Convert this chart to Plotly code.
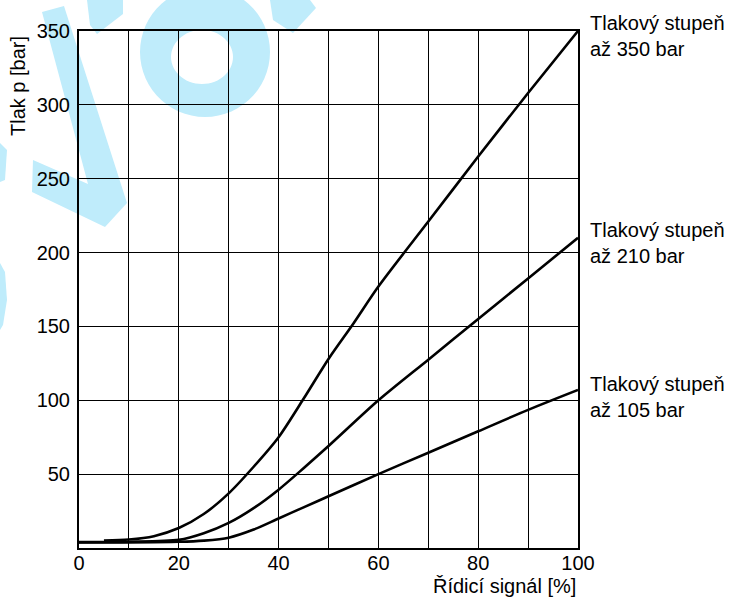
import math
import plotly.graph_objects as go

# Control signal [%] and resulting pressure [bar] for the three pressure stages
signal_350 = [5, 10, 15, 20, 25, 30, 35, 40, 45, 50, 55, 60, 70, 80, 90, 100]
pressure_350 = [5, 5.7, 8, 13.5, 23, 37, 55, 75, 101, 128, 152, 177, 221, 265, 308, 350]

signal_210 = [0, 10, 20, 25, 30, 35, 40, 45, 50, 60, 70, 80, 90, 100]
pressure_210 = [4, 4.2, 5.5, 10, 17, 27, 39.5, 54, 69, 100, 127.5, 155, 182.5, 210]

signal_105 = [0, 10, 20, 25, 30, 35, 40, 45, 50, 60, 70, 80, 90, 100]
pressure_105 = [3.8, 3.8, 4.2, 5, 7, 12.5, 20, 27.5, 35, 50, 64.5, 79, 93.5, 107]

stage_labels = ["Tlakový stupeň<br>až 350 bar",
                "Tlakový stupeň<br>až 210 bar",
                "Tlakový stupeň<br>až 105 bar"]
x_ticks = [0, 20, 40, 60, 80, 100]
y_ticks = [50, 100, 150, 200, 250, 300, 350]

FONT = "Liberation Sans, Arial, Helvetica, sans-serif"
W, H = 735, 600
L, R, T, B = 79, 157, 31, 52
pw, ph = W - L - R, H - T - B


def px_to_paper(px, py):
    return (px - L) / pw, (H - B - py) / ph


def poly_path(pts):
    parts = []
    for i, (px, py) in enumerate(pts):
        xp, yp = px_to_paper(px, py)
        parts.append(("M" if i == 0 else "L") + f"{xp:.5f},{yp:.5f}")
    return " ".join(parts) + " Z"


def ellipse_pts(cx, cy, rx, ry, n=60, reverse=False):
    pts = [(cx + rx * math.cos(2 * math.pi * k / n),
            cy + ry * math.sin(2 * math.pi * k / n)) for k in range(n)]
    return pts[::-1] if reverse else pts


fig = go.Figure()

# light cyan watermark strokes behind the grid
wm_color = "rgb(191,236,251)"
wm_polys = [
    [(42, 12), (64, 6), (127, 203), (105, 227), (32, 192), (33, 160), (88, 184)],
    [(87, 0), (123, 0), (123, 14), (97, 34), (90, 25)],
    [(270, 0), (310, 0), (316, 8), (293, 33), (273, 20)],
    [(0, 143), (7, 150), (5, 180), (0, 182)],
    [(0, 263), (5, 272), (7, 300), (3, 325), (0, 330)],
]
for pts in wm_polys:
    fig.add_shape(type="path", path=poly_path(pts), xref="paper", yref="paper",
                  fillcolor=wm_color, line=dict(width=0), layer="below")
ring = (poly_path(ellipse_pts(205, 52, 65, 65)) + " "
        + poly_path(ellipse_pts(202, 57, 31, 27, reverse=True)))
fig.add_shape(type="path", path=ring, xref="paper", yref="paper",
              fillcolor=wm_color, line=dict(width=0), layer="below")

series = [(signal_350, pressure_350), (signal_210, pressure_210),
          (signal_105, pressure_105)]
for xs, ys in series:
    fig.add_trace(go.Scatter(x=xs, y=ys, mode="lines",
                             line=dict(color="black", width=2.6,
                                       shape="spline", smoothing=0.8),
                             hoverinfo="skip", showlegend=False))

label_y = [346.8, 206.6, 102.4]
for txt, yv in zip(stage_labels, label_y):
    fig.add_annotation(text=txt, xref="paper", yref="y", x=(588 - L) / pw, y=yv,
                       xanchor="left", yanchor="middle", align="left",
                       showarrow=False,
                       font=dict(family=FONT, size=20, color="black"))

# axis titles
xp, yp = px_to_paper(18, 86)
fig.add_annotation(text="Tlak p [bar]", xref="paper", yref="paper", x=xp, y=yp,
                   xanchor="center", yanchor="middle", textangle=-90,
                   showarrow=False, font=dict(family=FONT, size=20, color="black"))
xp, yp = px_to_paper(578, 586)
fig.add_annotation(text="Řídicí signál [%]", xref="paper", yref="paper",
                   x=1.0, y=yp, xanchor="right", yanchor="middle",
                   showarrow=False, font=dict(family=FONT, size=20, color="black"))

fig.update_xaxes(range=[0, 100], tickvals=x_ticks, showgrid=True,
                 gridcolor="black", gridwidth=1,
                 minor=dict(dtick=10, showgrid=True, gridcolor="black", gridwidth=1),
                 showline=True, mirror=True, linecolor="black", linewidth=2,
                 zeroline=False, ticks="", ticklabelstandoff=-4,
                 tickfont=dict(family=FONT, size=20, color="black"))
fig.update_yaxes(range=[0, 350], tickvals=y_ticks, showgrid=True,
                 gridcolor="black", gridwidth=1,
                 showline=True, mirror=True, linecolor="black", linewidth=2,
                 zeroline=False, ticks="", ticklabelstandoff=3,
                 tickfont=dict(family=FONT, size=20, color="black"))

fig.update_layout(width=W, height=H, autosize=False,
                  margin=dict(l=L, r=R, t=T, b=B, autoexpand=False),
                  paper_bgcolor="white", plot_bgcolor="rgba(0,0,0,0)",
                  font=dict(family=FONT, color="black"))

fig.write_html("out.html")
